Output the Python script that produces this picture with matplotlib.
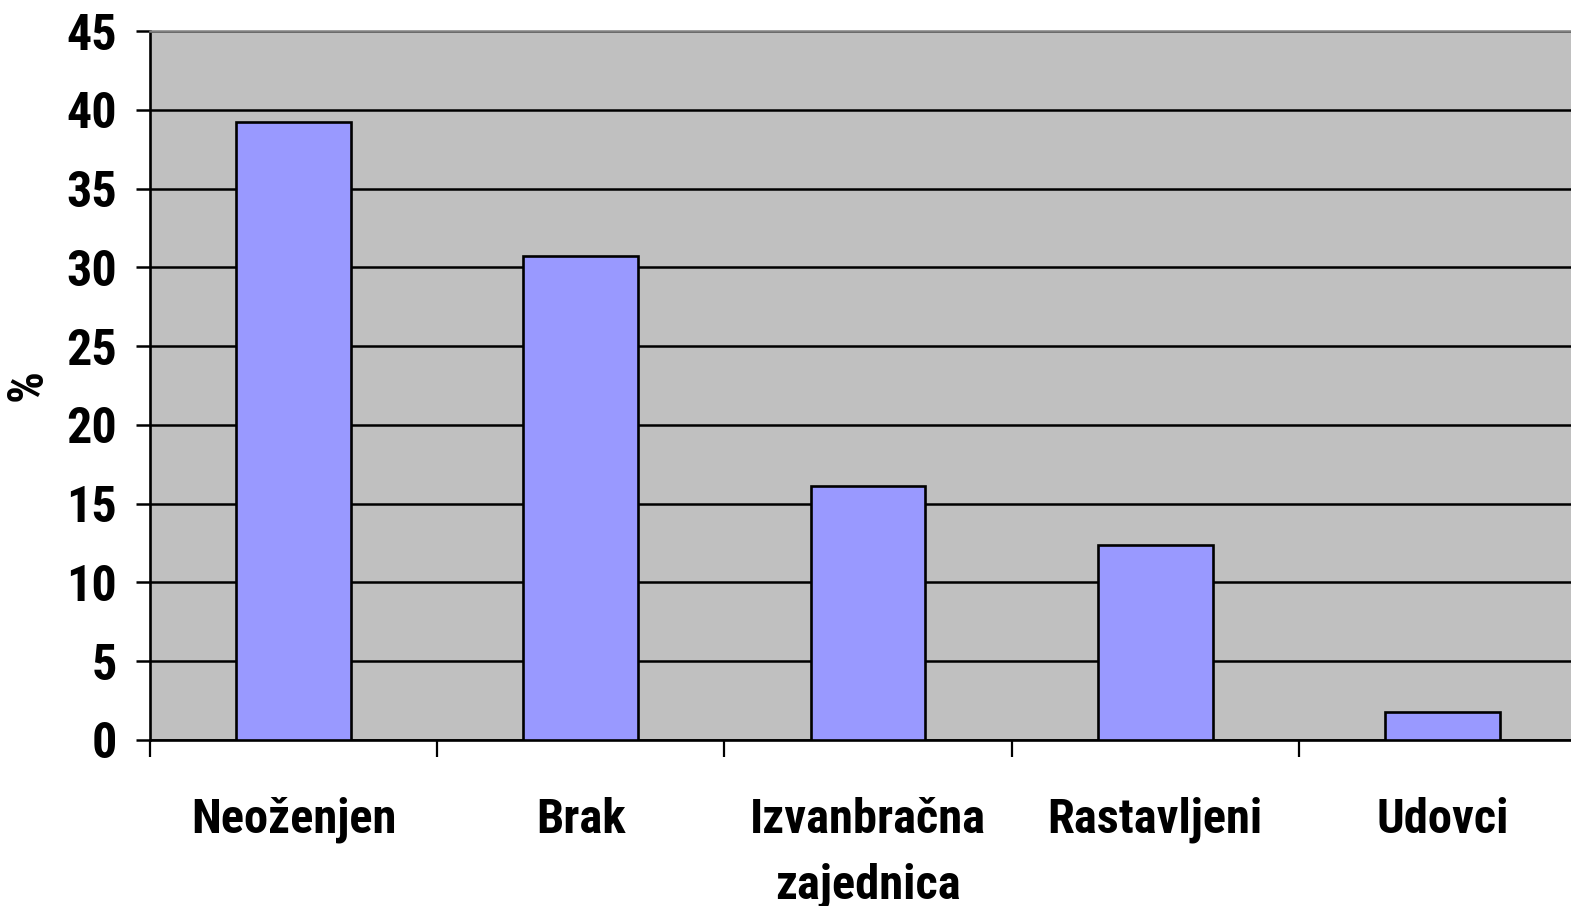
import numpy as np
import matplotlib.pyplot as plt
from matplotlib import font_manager

# marital status shares (%)
categories = ["Neoženjen", "Brak", "Izvanbračna\nzajednica", "Rastavljeni", "Udovci"]
values = [39.2, 30.7, 16.1, 12.4, 1.8]
yticks = [0, 5, 10, 15, 20, 25, 30, 35, 40, 45]

names = {f.name for f in font_manager.fontManager.ttflist}
family = next((n for n in ["Liberation Sans Narrow", "Roboto Condensed", "PT Sans Narrow"] if n in names),
              "Liberation Sans")
plt.rcParams["font.family"] = [family, "DejaVu Sans"]
plt.rcParams["font.weight"] = "bold"

W, H = 1571, 906
fig = plt.figure(figsize=(W / 100, H / 100), dpi=100)
# plot area runs past the right edge, like the source crop
left, right, top, bottom = 150, 1586, 31, 740
ax = fig.add_axes([left / W, 1 - bottom / H, (right - left) / W, (bottom - top) / H])

x = np.arange(len(categories))
ax.set_facecolor("#C0C0C0")
ax.bar(x, values, width=0.4, color="#9999FF", edgecolor="black", linewidth=1.9, zorder=3)

ax.set_xlim(-0.5, len(categories) - 0.5)
ax.set_ylim(0, 45)
ax.set_yticks(yticks)
ax.yaxis.grid(True, color="black", linewidth=1.8, zorder=1)
ax.set_axisbelow(True)

ax.set_xticks(np.arange(len(categories) + 1) - 0.5, minor=False)
ax.set_xticklabels([])
ax.set_xticks(x, minor=True)
ax.set_xticklabels(categories, minor=True, fontsize=35, fontweight="bold", linespacing=1.55)
ax.tick_params(axis="x", which="minor", length=0, pad=41)
ax.tick_params(axis="x", which="major", length=12, width=1.6, direction="out")
ax.tick_params(axis="y", length=10, width=1.8, pad=14, labelsize=36)
for lab in ax.get_yticklabels():
    lab.set_fontweight("bold")

for s in ["left", "bottom"]:
    ax.spines[s].set_linewidth(1.9)
    ax.spines[s].set_color("black")
ax.spines["top"].set_color("#808080")
ax.spines["top"].set_linewidth(1.8)
ax.spines["right"].set_visible(False)

fig.text(28 / W, 1 - 385 / H, "%", rotation=90, ha="center", va="center",
         fontsize=36, fontweight="bold")

fig.savefig("out.png", dpi=100)
